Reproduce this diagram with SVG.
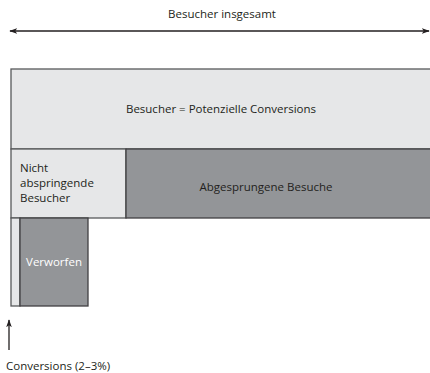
<svg xmlns="http://www.w3.org/2000/svg" width="430" height="373" viewBox="0 0 430 373">
<style>
text{font-family:"Open Sans","Liberation Sans",sans-serif;font-size:11.5px;fill:#231f20}
.light{fill:#e6e7e8;stroke:#58595b;stroke-width:1.3}
.dark{fill:#939598;stroke:#414042;stroke-width:1.3}
.w{fill:#ffffff}
.ln{stroke:#231f20;stroke-width:1.3;fill:none}
</style>
<defs>
<marker id="ah" viewBox="0 0 10 10" refX="9" refY="5" markerWidth="8" markerHeight="8" orient="auto-start-reverse" markerUnits="userSpaceOnUse">
<path d="M0,1.5 L10,5 L0,8.5 L2.5,5 Z" fill="#231f20"/>
</marker>
</defs>
<g id="connectors">
<line class="ln" x1="10" y1="31" x2="429" y2="31" marker-start="url(#ah)" marker-end="url(#ah)"/>
<line class="ln" x1="9" y1="350" x2="9" y2="320" marker-end="url(#ah)"/>
</g>
<g id="label-total"><text x="222" y="18" text-anchor="middle">Besucher insgesamt</text></g>
<g id="node-visitors">
<rect class="light" x="11" y="69" width="425" height="80"/>
<text x="221" y="113" text-anchor="middle">Besucher = Potenzielle Conversions</text>
</g>
<g id="node-nonbounce">
<rect class="light" x="11" y="149" width="115" height="69"/>
<text x="20" y="172">Nicht</text>
<text x="20" y="187">abspringende</text>
<text x="20" y="202">Besucher</text>
</g>
<g id="node-bounce">
<rect class="dark" x="126" y="149" width="310" height="69"/>
<text x="266" y="191" text-anchor="middle">Abgesprungene Besuche</text>
</g>
<g id="node-conversions">
<rect class="light" x="11" y="218" width="9" height="88"/>
</g>
<g id="node-discarded">
<rect class="dark" x="20" y="218" width="68" height="88"/>
<text class="w" x="54" y="266" text-anchor="middle">Verworfen</text>
</g>
<g id="label-conversions"><text x="6" y="370">Conversions (2–3%)</text></g>
</svg>
